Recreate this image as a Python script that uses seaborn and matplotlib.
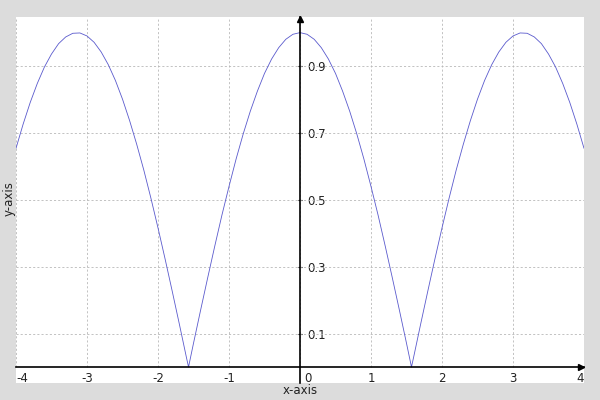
import matplotlib
matplotlib.use('Agg')
import matplotlib.pyplot as plt
import matplotlib.transforms as mtransforms
import seaborn as sns

# values
x_vals = [-4.0, -3.9, -3.8, -3.7, -3.6, -3.5, -3.4, -3.3, -3.2, -3.1,
          -3.0, -2.9, -2.8, -2.7, -2.6, -2.5, -2.4, -2.3, -2.2, -2.1,
          -2.0, -1.9, -1.8, -1.7, -1.6, -1.57, -1.5, -1.4, -1.3, -1.2, -1.1,
          -1.0, -0.9, -0.8, -0.7, -0.6, -0.5, -0.4, -0.3, -0.2, -0.1,
          0.0, 0.1, 0.2, 0.3, 0.4, 0.5, 0.6, 0.7, 0.8, 0.9,
          1.0, 1.1, 1.2, 1.3, 1.4, 1.5, 1.57, 1.6, 1.7, 1.8, 1.9,
          2.0, 2.1, 2.2, 2.3, 2.4, 2.5, 2.6, 2.7, 2.8, 2.9,
          3.0, 3.1, 3.2, 3.3, 3.4, 3.5, 3.6, 3.7, 3.8, 3.9, 4.0]
y_vals = [0.654, 0.726, 0.791, 0.848, 0.897, 0.936, 0.967, 0.987, 0.998, 0.999,
          0.990, 0.971, 0.942, 0.904, 0.857, 0.801, 0.737, 0.666, 0.589, 0.505,
          0.416, 0.323, 0.227, 0.129, 0.029, 0.0, 0.071, 0.170, 0.267, 0.362, 0.454,
          0.540, 0.622, 0.697, 0.765, 0.825, 0.878, 0.921, 0.955, 0.980, 0.995,
          1.000, 0.995, 0.980, 0.955, 0.921, 0.878, 0.825, 0.765, 0.697, 0.622,
          0.540, 0.454, 0.362, 0.267, 0.170, 0.071, 0.0, 0.029, 0.129, 0.227, 0.323,
          0.416, 0.505, 0.589, 0.666, 0.737, 0.801, 0.857, 0.904, 0.942, 0.971,
          0.990, 0.999, 0.998, 0.987, 0.967, 0.936, 0.897, 0.848, 0.791, 0.726, 0.654]

x_ticks = [-4, -3, -2, -1, 0, 1, 2, 3, 4]
x_labels = ['-4', '-3', '-2', '-1', '0', '1', '2', '3', '4']
y_ticks = [0.1, 0.3, 0.5, 0.7, 0.9]
y_labels = ['0.1', '0.3', '0.5', '0.7', '0.9']

sns.set_style('white')
plt.rcParams['font.family'] = ['DejaVu Sans']

fig = plt.figure(figsize=(6, 4), dpi=100, facecolor='#dcdcdc')
ax = fig.add_axes([16 / 600, 17 / 400, 568 / 600, 366 / 400])
ax.set_facecolor('white')

y_top = 1.0467
y_bot = -0.0478
ax.set_xlim(-4, 4)
ax.set_ylim(y_bot, y_top)

# dotted grid, only above the x axis
grid_kw = dict(color='#b8b8b8', lw=0.6, linestyle=(0, (2.5, 2.5)), zorder=1)
ax.vlines(x_ticks, 0, y_top, **grid_kw)
ax.hlines(y_ticks, -4, 4, **grid_kw)

sns.lineplot(x=x_vals, y=y_vals, ax=ax, color='#5a5acd', lw=0.6, sort=False, zorder=3)

# axes through the origin
ax.spines['top'].set_visible(False)
ax.spines['left'].set_visible(False)
ax.spines['bottom'].set_position(('data', 0))
ax.spines['right'].set_position(('data', 0))
for s in ['bottom', 'right']:
    ax.spines[s].set_color('black')
    ax.spines[s].set_linewidth(1.2)
    ax.spines[s].set_zorder(4)
ax.yaxis.tick_right()

# arrow heads
ax.plot(1 - 3 / 568, 0, '>k', ms=5, transform=ax.get_yaxis_transform(), clip_on=False, zorder=5)
ax.plot(0, 1 - 2 / 366, '^k', ms=5, transform=ax.get_xaxis_transform(), clip_on=False, zorder=5)

ax.set_xticks(x_ticks)
ax.set_xticklabels(x_labels)
ax.set_yticks(y_ticks)
ax.set_yticklabels(y_labels)
ax.tick_params(axis='both', direction='inout', length=3, width=0.8, colors='black',
               labelsize=8.5, labelcolor='#222222')
ax.tick_params(axis='x', pad=2)
ax.tick_params(axis='y', pad=4)

xt = ax.get_xticklabels()
xt[0].set_ha('left')
xt[-1].set_ha('right')
xt[4].set_ha('left')
xt[4].set_transform(xt[4].get_transform() +
                    mtransforms.ScaledTranslation(4 / 100, 0, fig.dpi_scale_trans))

ax.set_xlabel('')
ax.set_ylabel('')
fig.text(0.5, 1 - 391 / 400, 'x-axis', ha='center', va='center', fontsize=8.5, color='#222222')
fig.text(9 / 600, 1 - 199 / 400, 'y-axis', ha='center', va='center', rotation=90,
         fontsize=8.5, color='#222222')

fig.savefig('out.png', dpi=100, facecolor=fig.get_facecolor())
